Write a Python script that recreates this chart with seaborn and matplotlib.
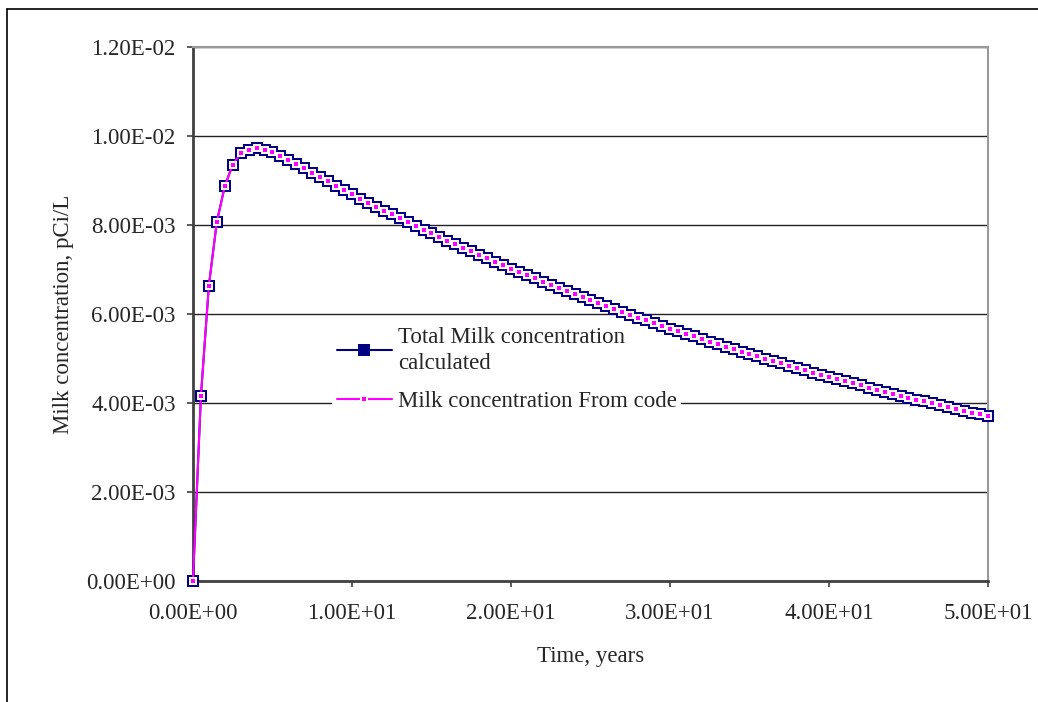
import numpy as np
import pandas as pd
import matplotlib
matplotlib.use('Agg')
import matplotlib.pyplot as plt
from matplotlib.lines import Line2D
from matplotlib.ticker import FuncFormatter, MultipleLocator
import seaborn as sns

# zaman (yil), her 0.5 yilda bir nokta
time_years = [i * 0.5 for i in range(101)]

# toplam sut konsantrasyonu (pCi/L)
milk_calc = [
    0.0, 0.00416, 0.00664, 0.00807, 0.00887, 0.00936, 0.00961, 0.00969, 0.00973, 0.00969,
    0.00963, 0.00955, 0.00946, 0.00937, 0.00928, 0.00918, 0.00909, 0.00898, 0.00888, 0.008780,
    0.008687, 0.008595, 0.008504, 0.008414, 0.008325, 0.008237, 0.008150, 0.008064, 0.007979, 0.007894,
    0.007810, 0.007727, 0.007645, 0.007564, 0.007484, 0.007405, 0.007327, 0.007249, 0.007172, 0.007096,
    0.007021, 0.006947, 0.006873, 0.006800, 0.006728, 0.006657, 0.006586, 0.006516, 0.006447, 0.006379,
    0.006311, 0.006244, 0.006178, 0.006113, 0.006048, 0.005984, 0.005920, 0.005857, 0.005795, 0.005734,
    0.005673, 0.005613, 0.005554, 0.005495, 0.005437, 0.005379, 0.005322, 0.005266, 0.005210, 0.005155,
    0.005100, 0.005046, 0.004993, 0.004940, 0.004888, 0.004836, 0.004785, 0.004734, 0.004684, 0.004634,
    0.004585, 0.004536, 0.004488, 0.004441, 0.004394, 0.004347, 0.004301, 0.004255, 0.004210, 0.004166,
    0.004122, 0.004078, 0.004035, 0.003992, 0.003950, 0.003908, 0.003867, 0.003826, 0.003785, 0.003745,
    0.003705,
]
# koddan gelen degerler (hesaplananla ust uste)
milk_code = list(milk_calc)

label_calc = 'Total Milk concentration\ncalculated'
label_code = 'Milk concentration From code'

df = pd.DataFrame({'time': time_years, 'calc': milk_calc, 'code': milk_code})

sns.set_style('white')
plt.rcParams['font.family'] = ['Liberation Serif', 'DejaVu Serif']
fs = 16.5

fig = plt.figure(figsize=(10.38, 7.02), dpi=100)
ax = fig.add_axes([0.1859, 0.1724, 0.7659, 0.7606])
ax.set_axisbelow(True)

sns.lineplot(data=df, x='time', y='calc', ax=ax, color='#000080', linewidth=1.5,
             marker='s', markersize=6.5, markerfacecolor='#000080',
             markeredgecolor='#000080', markeredgewidth=1.45, label=label_calc,
             zorder=3, clip_on=False)
sns.lineplot(data=df, x='time', y='code', ax=ax, color='#FF00FF', linewidth=1.5,
             marker='s', markersize=3.8, markerfacecolor='#FF00FF',
             markeredgecolor='white', markeredgewidth=1.4, label=label_code,
             zorder=4, clip_on=False)

ax.set_xlim(0, 50)
ax.set_ylim(0, 0.012)
ax.xaxis.set_major_locator(MultipleLocator(10))
ax.yaxis.set_major_locator(MultipleLocator(0.002))
ax.xaxis.set_major_formatter(FuncFormatter(lambda v, p: f'{v:.2E}'))
ax.yaxis.set_major_formatter(FuncFormatter(lambda v, p: f'{v:.2E}'))
ax.yaxis.grid(True, color='#222222', linewidth=1.0)
ax.xaxis.grid(False)
ax.tick_params(axis='both', direction='out', length=4.5, width=1.2, color='#404040',
               labelsize=fs, left=True, bottom=True)
ax.tick_params(axis='x', pad=11)
ax.tick_params(axis='y', pad=8)

for s in ['left', 'bottom']:
    ax.spines[s].set_color('#404040')
    ax.spines[s].set_linewidth(2)
for s in ['top', 'right']:
    ax.spines[s].set_color('#999999')
    ax.spines[s].set_linewidth(1.5)

ax.set_xlabel('Time, years', fontsize=fs, labelpad=16)
ax.set_ylabel('Milk concentration, pCi/L', fontsize=fs, labelpad=9)

leg = ax.legend(loc='upper left', bbox_to_anchor=(0.175, 0.485), frameon=True,
                fontsize=fs, handlelength=2.4, handletextpad=0.26, borderaxespad=0,
                borderpad=0.2, labelspacing=0.75, fancybox=False)
for t in leg.get_texts():
    t.set_linespacing(1.35)
leg.get_frame().set_facecolor('white')
leg.get_frame().set_edgecolor('none')
leg.get_frame().set_alpha(1)
leg.set_zorder(2.5)

# dis cerceve (grafik alani)
fig.add_artist(Line2D([7 / 1038, 7 / 1038], [0, 1 - 9 / 702], color='black', linewidth=1.2))
fig.add_artist(Line2D([7 / 1038, 1], [1 - 9 / 702, 1 - 9 / 702], color='black', linewidth=1.2))

fig.savefig('out.png', dpi=100)
